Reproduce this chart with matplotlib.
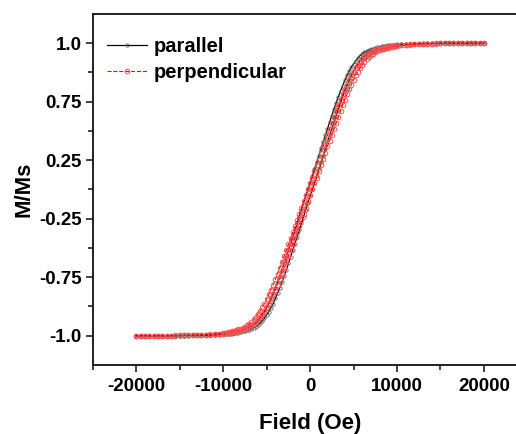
import matplotlib
matplotlib.use("Agg")
import matplotlib.pyplot as plt
from matplotlib.ticker import FixedLocator

plt.rcParams['font.family'] = ['Liberation Sans', 'DejaVu Sans']
plt.rcParams['font.weight'] = 'bold'

# campo aplicado (Oe): passo de 500 nas pontas, 250 no centro
campo = [-20000, -19500, -19000, -18500, -18000, -17500, -17000, -16500, -16000, -15500,
         -15000, -14500, -14000, -13500, -13000, -12500, -12000, -11500, -11000, -10500,
         -10000, -9750, -9500, -9250, -9000, -8750, -8500, -8250, -8000, -7750,
         -7500, -7250, -7000, -6750, -6500, -6250, -6000, -5750, -5500, -5250,
         -5000, -4750, -4500, -4250, -4000, -3750, -3500, -3250, -3000, -2750,
         -2500, -2250, -2000, -1750, -1500, -1250, -1000, -750, -500, -250,
         0, 250, 500, 750, 1000, 1250, 1500, 1750, 2000, 2250,
         2500, 2750, 3000, 3250, 3500, 3750, 4000, 4250, 4500, 4750,
         5000, 5250, 5500, 5750, 6000, 6250, 6500, 6750, 7000, 7250,
         7500, 7750, 8000, 8250, 8500, 8750, 9000, 9250, 9500, 9750,
         10000, 10500, 11000, 11500, 12000, 12500, 13000, 13500, 14000, 14500,
         15000, 15500, 16000, 16500, 17000, 17500, 18000, 18500, 19000, 19500, 20000]

# paralelo - ramo descendente
par_desc = [-1.000, -1.000, -1.000, -1.000, -1.000, -1.000, -1.000, -1.000, -1.000, -1.000,
            -0.999, -0.999, -0.998, -0.998, -0.997, -0.996, -0.995, -0.994, -0.993, -0.991,
            -0.988, -0.987, -0.985, -0.983, -0.980, -0.978, -0.975, -0.971, -0.967, -0.963,
            -0.958, -0.952, -0.945, -0.938, -0.927, -0.915, -0.898, -0.880, -0.858, -0.835,
            -0.808, -0.780, -0.745, -0.710, -0.673, -0.635, -0.593, -0.550, -0.505, -0.460,
            -0.415, -0.370, -0.325, -0.280, -0.232, -0.185, -0.138, -0.090, -0.045, 0.000,
            0.045, 0.090, 0.138, 0.185, 0.232, 0.280, 0.325, 0.370, 0.415, 0.460,
            0.505, 0.550, 0.593, 0.635, 0.673, 0.710, 0.745, 0.780, 0.808, 0.835,
            0.858, 0.880, 0.898, 0.915, 0.927, 0.938, 0.945, 0.952, 0.958, 0.963,
            0.967, 0.971, 0.975, 0.978, 0.980, 0.983, 0.985, 0.987, 0.988, 0.990,
            0.991, 0.993, 0.994, 0.995, 0.996, 0.997, 0.998, 0.998, 0.999, 0.999,
            1.000, 1.000, 1.000, 1.000, 1.000, 1.000, 1.000, 1.000, 1.000, 1.000, 1.000]

# paralelo - ramo ascendente
par_asc = [-1.000, -1.000, -1.000, -1.000, -1.000, -1.000, -1.000, -1.000, -1.000, -1.000,
           -1.000, -0.999, -0.999, -0.998, -0.998, -0.997, -0.996, -0.995, -0.994, -0.993,
           -0.991, -0.990, -0.988, -0.987, -0.985, -0.983, -0.980, -0.978, -0.975, -0.971,
           -0.967, -0.963, -0.958, -0.952, -0.945, -0.938, -0.927, -0.915, -0.898, -0.880,
           -0.858, -0.835, -0.808, -0.780, -0.745, -0.710, -0.673, -0.635, -0.593, -0.550,
           -0.505, -0.460, -0.415, -0.370, -0.325, -0.280, -0.232, -0.185, -0.138, -0.090,
           -0.045, 0.000, 0.045, 0.090, 0.138, 0.185, 0.232, 0.280, 0.325, 0.370,
           0.415, 0.460, 0.505, 0.550, 0.593, 0.635, 0.673, 0.710, 0.745, 0.780,
           0.808, 0.835, 0.858, 0.880, 0.898, 0.915, 0.927, 0.938, 0.945, 0.952,
           0.958, 0.963, 0.967, 0.971, 0.975, 0.978, 0.980, 0.983, 0.985, 0.987,
           0.988, 0.991, 0.993, 0.994, 0.995, 0.996, 0.997, 0.998, 0.998, 0.999,
           0.999, 1.000, 1.000, 1.000, 1.000, 1.000, 1.000, 1.000, 1.000, 1.000, 1.000]

# perpendicular - ramo descendente
perp_desc = [-1.000, -1.000, -1.000, -1.000, -1.000, -1.000, -1.000, -0.999, -0.999, -0.998,
             -0.998, -0.997, -0.997, -0.996, -0.995, -0.994, -0.992, -0.990, -0.988, -0.985,
             -0.980, -0.978, -0.976, -0.972, -0.969, -0.966, -0.961, -0.957, -0.951, -0.945,
             -0.939, -0.929, -0.919, -0.905, -0.889, -0.871, -0.851, -0.830, -0.805, -0.780,
             -0.749, -0.717, -0.684, -0.650, -0.614, -0.576, -0.537, -0.496, -0.456, -0.415,
             -0.375, -0.334, -0.294, -0.251, -0.209, -0.166, -0.124, -0.081, -0.041, 0.000,
             0.041, 0.081, 0.124, 0.166, 0.209, 0.251, 0.294, 0.334, 0.375, 0.415,
             0.456, 0.496, 0.537, 0.576, 0.614, 0.650, 0.684, 0.717, 0.749, 0.780,
             0.805, 0.830, 0.851, 0.871, 0.889, 0.905, 0.919, 0.929, 0.939, 0.945,
             0.951, 0.957, 0.961, 0.966, 0.969, 0.972, 0.976, 0.978, 0.980, 0.983,
             0.985, 0.988, 0.990, 0.992, 0.994, 0.995, 0.996, 0.997, 0.997, 0.998,
             0.998, 0.999, 0.999, 1.000, 1.000, 1.000, 1.000, 1.000, 1.000, 1.000, 1.000]

# perpendicular - ramo ascendente
perp_asc = [-1.000, -1.000, -1.000, -1.000, -1.000, -1.000, -1.000, -1.000, -0.999, -0.999,
            -0.998, -0.998, -0.997, -0.997, -0.996, -0.995, -0.994, -0.992, -0.990, -0.988,
            -0.985, -0.983, -0.980, -0.978, -0.976, -0.972, -0.969, -0.966, -0.961, -0.957,
            -0.951, -0.945, -0.939, -0.929, -0.919, -0.905, -0.889, -0.871, -0.851, -0.830,
            -0.805, -0.780, -0.749, -0.717, -0.684, -0.650, -0.614, -0.576, -0.537, -0.496,
            -0.456, -0.415, -0.375, -0.334, -0.294, -0.251, -0.209, -0.166, -0.124, -0.081,
            -0.041, 0.000, 0.041, 0.081, 0.124, 0.166, 0.209, 0.251, 0.294, 0.334,
            0.375, 0.415, 0.456, 0.496, 0.537, 0.576, 0.614, 0.650, 0.684, 0.717,
            0.749, 0.780, 0.805, 0.830, 0.851, 0.871, 0.889, 0.905, 0.919, 0.929,
            0.939, 0.945, 0.951, 0.957, 0.961, 0.966, 0.969, 0.972, 0.976, 0.978,
            0.980, 0.985, 0.988, 0.990, 0.992, 0.994, 0.995, 0.996, 0.997, 0.997,
            0.998, 0.998, 0.999, 0.999, 1.000, 1.000, 1.000, 1.000, 1.000, 1.000, 1.000]

ticks_y = [1.0, 0.6, 0.2, -0.2, -0.6, -1.0]
rotulos_y = ['1.0', '0.75', '0.25', '-0.25', '-0.75', '-1.0']
ticks_x = [-20000, -10000, 0, 10000, 20000]


def main():
    fig = plt.figure(figsize=(5.16, 4.34), dpi=100)
    ax = fig.add_axes([0.180, 0.159, 0.842, 0.809])

    estilo_par = dict(color='black', lw=0.9, marker='o', ms=2.4, mfc='none',
                      mec='#666666', mew=0.6)
    estilo_perp = dict(color='red', lw=0.8, ls='--', marker='o', ms=3.3, mfc='none',
                       mec='#ff5050', mew=0.7)

    ax.plot(campo[::-1], par_desc[::-1], label='parallel', **estilo_par)
    ax.plot(campo, par_asc, **estilo_par)
    ax.plot(campo[::-1], perp_desc[::-1], label='perpendicular', **estilo_perp)
    ax.plot(campo, perp_asc, **estilo_perp)

    ax.set_xlim(-25000, 25000)
    ax.set_ylim(-1.2, 1.2)

    ax.set_xticks(ticks_x)
    ax.set_xticklabels([str(t) for t in ticks_x])
    ax.xaxis.set_minor_locator(FixedLocator([-25000, -15000, -5000, 5000, 15000, 25000]))
    ax.set_yticks(ticks_y)
    ax.set_yticklabels(rotulos_y)
    ax.yaxis.set_minor_locator(FixedLocator([0.8, 0.4, 0.0, -0.4, -0.8]))

    ax.tick_params(which='both', direction='out', top=False, right=False,
                   width=1.2, color='#222222', labelsize=13.5)
    ax.tick_params(axis='x', pad=4.5)
    ax.tick_params(axis='y', pad=3)
    ax.tick_params(which='major', length=5)
    ax.tick_params(which='minor', length=3.5)
    for lado in ['left', 'bottom', 'top', 'right']:
        ax.spines[lado].set_linewidth(1.4)
        ax.spines[lado].set_color('#222222')

    ax.set_xlabel('Field (Oe)', fontsize=16, fontweight='bold', labelpad=13)
    ax.set_ylabel('M/Ms', fontsize=16, fontweight='bold', labelpad=3)

    ax.legend(loc='upper left', bbox_to_anchor=(0.0, 0.975), frameon=False,
              fontsize=14.5, handlelength=2.0, handletextpad=0.3,
              labelspacing=0.35, borderaxespad=0.3)

    fig.savefig('out.png', dpi=100)
    plt.close(fig)


if __name__ == "__main__":
    main()
